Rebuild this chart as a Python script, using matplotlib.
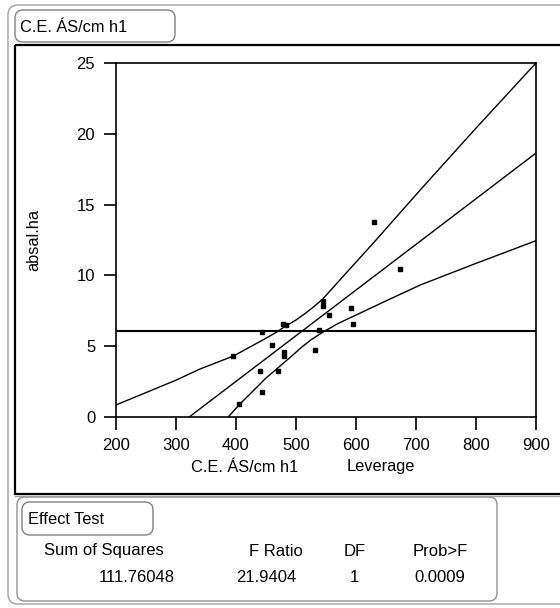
import matplotlib
matplotlib.use("Agg")
import matplotlib.pyplot as plt
from matplotlib.patches import FancyBboxPatch, Rectangle

plt.rcParams["font.family"] = ["Liberation Sans", "DejaVu Sans"]

effect_name = "C.E. ÁS/cm h1"
response_name = "absal.ha"

# leverage residuals
lev_x = [395.6, 442.8, 460, 479, 483, 480, 480, 440, 470, 442.8, 405.5,
         531, 544.5, 544.5, 555.5, 539, 592, 595.5, 630, 673]
lev_y = [4.31, 5.98, 5.11, 6.6, 6.5, 4.57, 4.31, 3.25, 3.25, 1.79, 0.90,
         4.75, 8.21, 7.82, 7.18, 6.14, 7.67, 6.54, 13.75, 10.45]

fit_x = [322, 900]
fit_y = [0.0, 18.64]
mean_y = 6.06

upper_x = [200, 300, 340, 396, 443, 468, 480, 500, 515, 530, 545, 580, 629, 707, 800, 900]
upper_y = [0.85, 2.6, 3.39, 4.31, 5.4, 6.0, 6.35, 6.85, 7.3, 7.8, 8.35, 10.0,
           12.29, 16.03, 20.4, 25.0]
lower_x = [387, 405, 450, 490, 510, 525, 545, 570, 600, 650, 707, 800, 900]
lower_y = [0.0, 0.85, 2.75, 4.2, 4.95, 5.45, 6.0, 6.6, 7.2, 8.2, 9.32, 10.85, 12.45]

x_ticks = [200, 300, 400, 500, 600, 700, 800, 900]
y_ticks = [0, 5, 10, 15, 20, 25]

table_headers = ["Sum of Squares", "F Ratio", "DF", "Prob>F"]
table_values = ["111.76048", "21.9404", "1", "0.0009"]

W, H = 560, 608
fig = plt.figure(figsize=(W / 100, H / 100), dpi=100)

# background layer in pixel units for the report frames and text
bg = fig.add_axes([0, 0, 1, 1], zorder=0)
bg.set_xlim(0, W)
bg.set_ylim(H, 0)
bg.axis("off")


def rbox(x0, y0, x1, y1, color="#909090", lw=1.0, r=8):
    bg.add_patch(FancyBboxPatch((x0, y0), x1 - x0, y1 - y0,
                                boxstyle=f"round,pad=0,rounding_size={r}",
                                fc="none", ec=color, lw=lw))


# outer report outline
rbox(8, 5, 600, 604, color="#a0a0a0", lw=1.0, r=10)
# title box
rbox(15, 10, 175, 42, color="#808080", lw=1.0, r=8)
bg.text(20, 27, effect_name, fontsize=11.8, va="center", ha="left")
# plot frame
bg.add_patch(Rectangle((15, 45), 600, 449, fc="none", ec="black", lw=1.6))
bg.plot([15, 600], [496, 496], color="#a0a0a0", lw=1.0)

# effect test panel
rbox(17, 497, 497, 601, color="#909090", lw=1.0, r=8)
rbox(22, 502, 153, 535, color="#808080", lw=1.0, r=8)
bg.text(28, 519, "Effect Test", fontsize=11.8, va="center", ha="left")
header_right = [164, 303, 366, 468]
value_right = [175, 296, 359, 465]
for txt, xr in zip(table_headers, header_right):
    bg.text(xr, 551, txt, fontsize=12, va="center", ha="right")
for txt, xr in zip(table_values, value_right):
    bg.text(xr, 577, txt, fontsize=12, va="center", ha="right")

# leverage plot axes
ax_l, ax_r, ax_t, ax_b = 116, 536, 63, 417
ax = fig.add_axes([ax_l / W, 1 - ax_b / H, (ax_r - ax_l) / W, (ax_b - ax_t) / H],
                  zorder=1)
ax.set_xlim(200, 900)
ax.set_ylim(0, 25)
ax.patch.set_alpha(0)

ax.plot(upper_x, upper_y, color="black", lw=1.0)
ax.plot(lower_x, lower_y, color="black", lw=1.0)
ax.plot(fit_x, fit_y, color="black", lw=1.0)
ax.axhline(mean_y, color="black", lw=1.5)
ax.plot(lev_x, lev_y, ls="none", marker="s", ms=2.6, color="black")

ax.set_xticks(x_ticks)
ax.set_yticks(y_ticks)
ax.tick_params(direction="out", length=9, width=1.2, labelsize=12, pad=6)
for s in ax.spines.values():
    s.set_linewidth(1.2)

bg.text(34, 240, response_name, fontsize=11.8, va="center", ha="center",
        rotation=90)
bg.text(245, 467, effect_name, fontsize=11.8, va="center", ha="center")
bg.text(381, 467, "Leverage", fontsize=11.8, va="center", ha="center")

fig.savefig("out.png", dpi=100)
